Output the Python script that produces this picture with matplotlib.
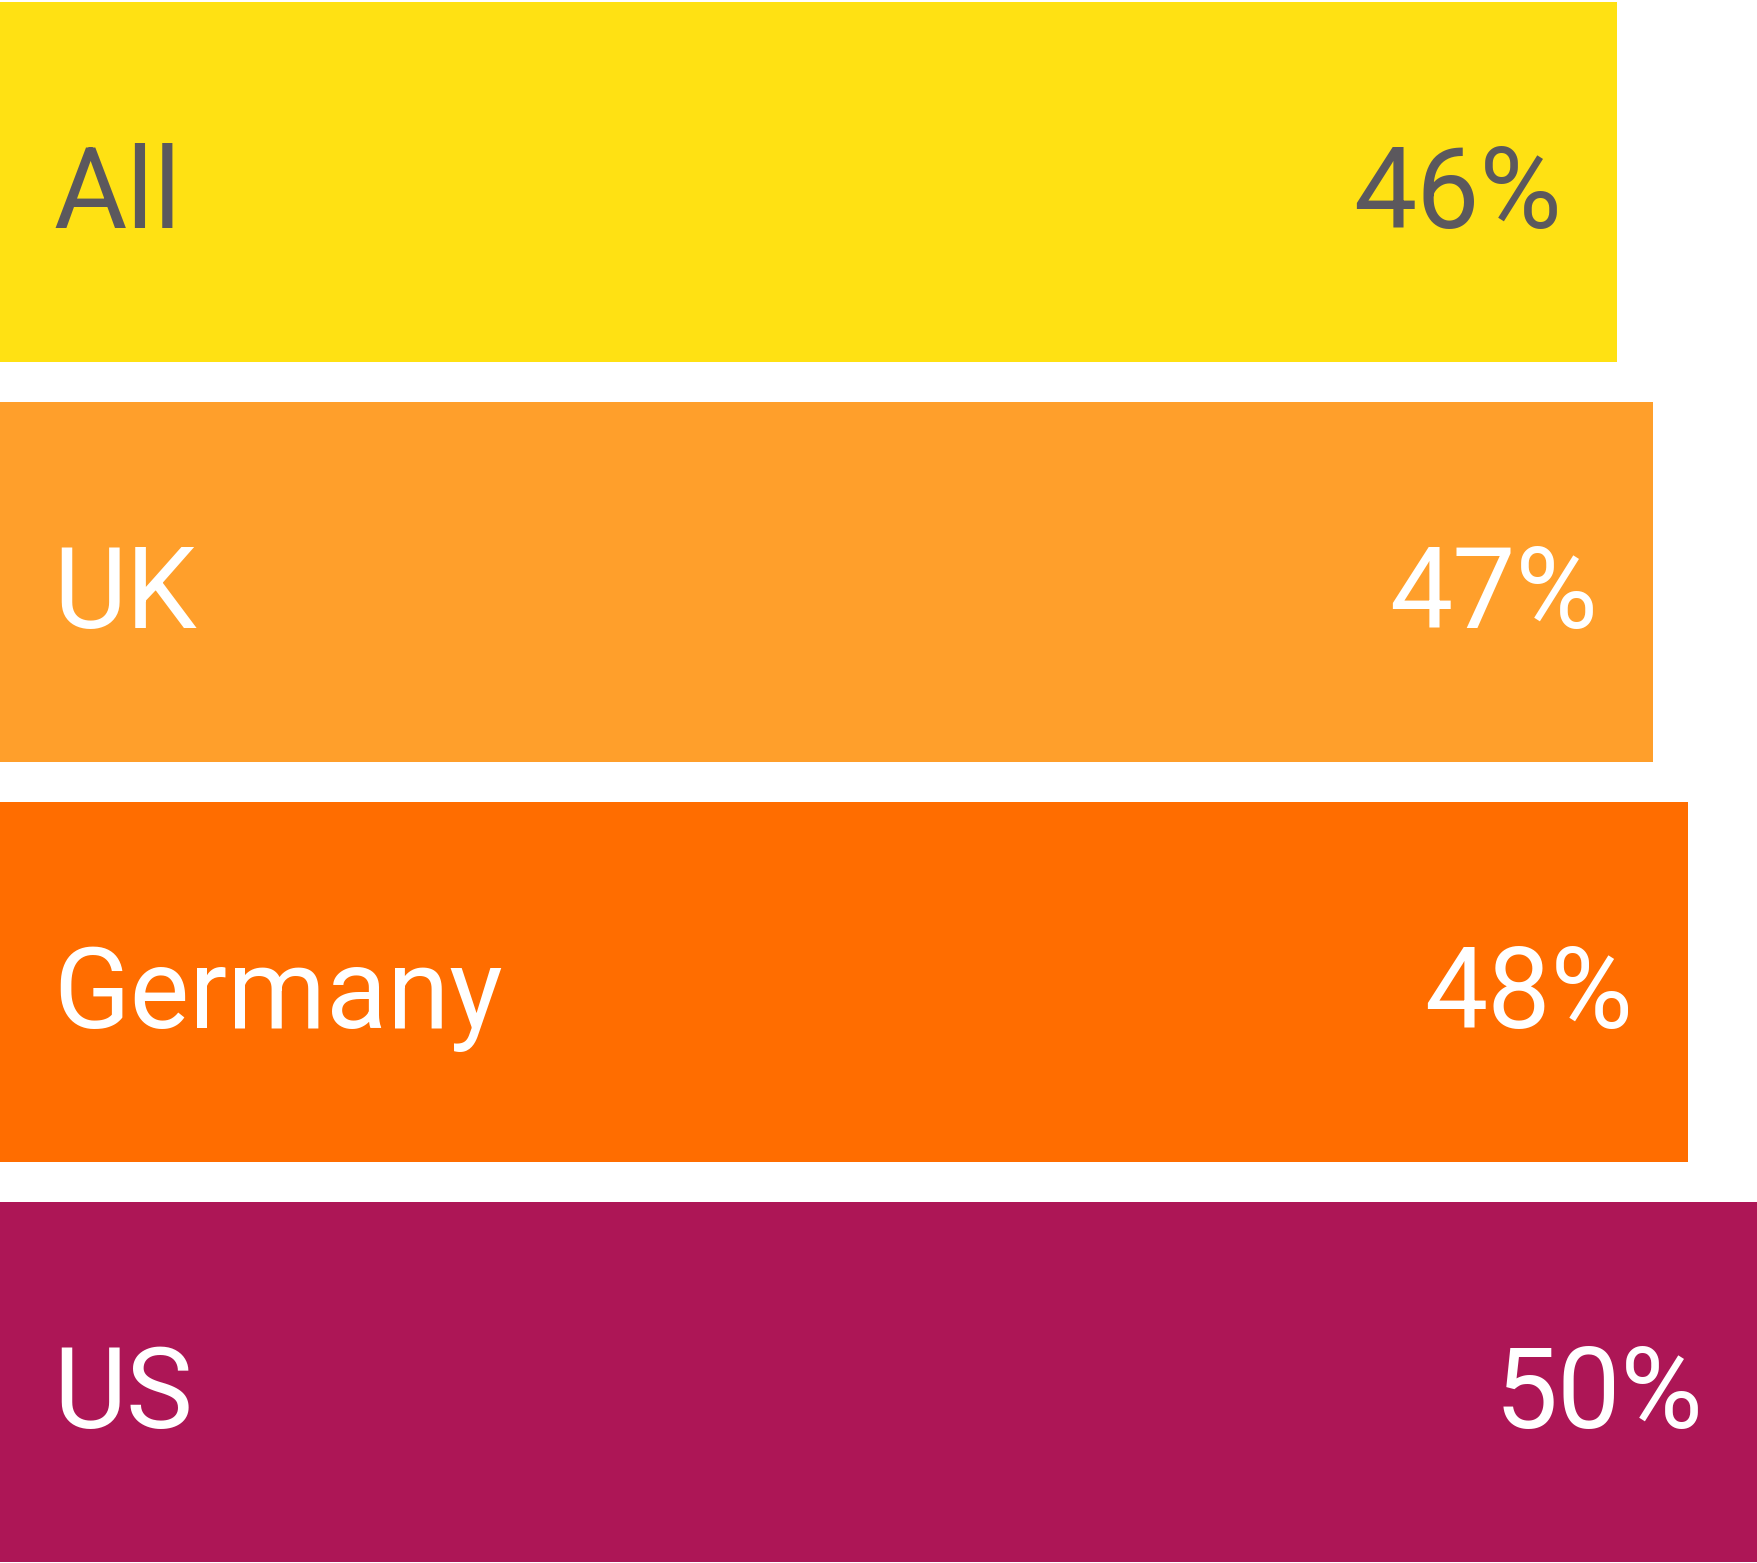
import matplotlib
matplotlib.use("Agg")
import matplotlib.pyplot as plt

categories = ["All", "UK", "Germany", "US"]
values = [46, 47, 48, 50]
value_labels = ["46%", "47%", "48%", "50%"]
bar_colors = ["#FFE113", "#FF9F2B", "#FF6D00", "#AD1656"]
text_colors = ["#5B585D", "#FFFFFF", "#FFFFFF", "#FFFFFF"]

W, H = 1758, 1563
fig = plt.figure(figsize=(W / 100, H / 100), dpi=100)
ax = fig.add_axes([0, 0, 1, 1])

y = list(range(len(categories)))
ax.barh(y, values, height=0.9, color=bar_colors, edgecolor="none")
ax.set_xlim(0, 50)
ax.set_ylim((H - 182) / 400, -182 / 400)
ax.axis("off")

fs = 81
for i, (cat, v, lab, tc) in enumerate(zip(categories, values, value_labels, text_colors)):
    ax.annotate(cat, xy=(0, i), xytext=(53, -46), textcoords="offset pixels",
                ha="left", va="baseline", fontsize=fs, color=tc,
                family=["Roboto", "DejaVu Sans"], fontweight="normal")
    ax.annotate(lab, xy=(v, i), xytext=(-55, -46), textcoords="offset pixels",
                ha="right", va="baseline", fontsize=fs, color=tc,
                family=["Roboto", "DejaVu Sans"], fontweight="normal")

fig.savefig("out.png", dpi=100, facecolor="white")
